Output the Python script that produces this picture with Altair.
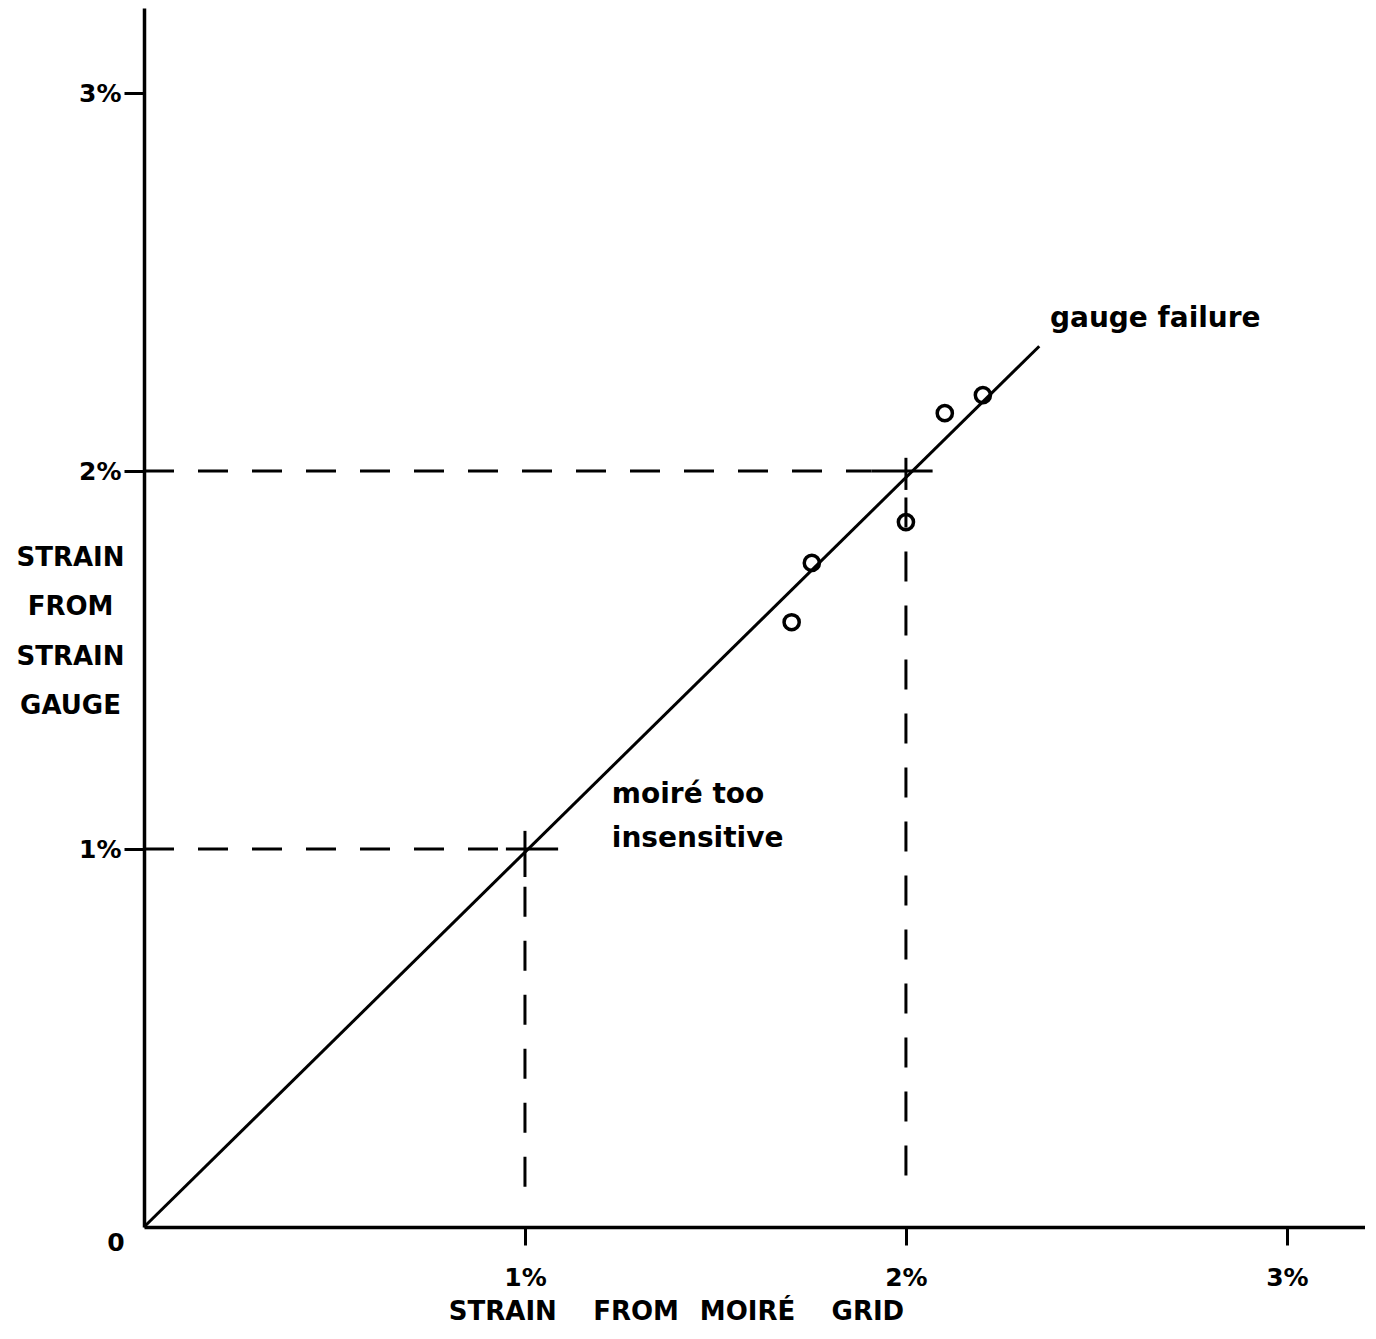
import altair as alt
import pandas as pd

# ---- data ----
line_x = [0.0, 2.35]
line_y = [0.0, 2.33]

pt_x = [1.70, 1.753, 2.0, 2.102, 2.202]
pt_y = [1.60, 1.757, 1.865, 2.153, 2.201]

dash_x = [0.0, 0.0, 1.0, 2.0]
dash_x2 = [0.95, 1.91, 1.0, 2.0]
dash_y = [1.0, 2.0, 0.90, 1.93]
dash_y2 = [1.0, 2.0, 0.10, 0.08]

cross_x = [0.95, 1.0, 1.91, 2.0]
cross_x2 = [1.087, 1.0, 2.07, 2.0]
cross_y = [1.0, 1.048, 2.0, 2.035]
cross_y2 = [1.0, 0.926, 2.0, 1.95]

note_text = ["gauge failure", "moiré too", "insensitive"]
note_x = [2.378, 1.228, 1.228]
note_y = [2.381, 1.122, 1.005]

zero_label = ["0"]
tick_vals = [1, 2, 3]
x_max = 3.205
y_max = 3.225

FONT = "DejaVu Sans"

xs = alt.Scale(domain=[0, x_max], nice=False, zero=False)
ys = alt.Scale(domain=[0, y_max], nice=False, zero=False)

x_axis = alt.Axis(
    values=tick_vals, labelExpr="datum.value + '%'", grid=False,
    title="STRAIN\u2003\u2009\u2009FROM\u2002\u2009\u200aMOIRÉ\u2003\u2009\u2009GRID",
    domainColor="black", domainWidth=3.5, tickColor="black", tickWidth=3, tickSize=18,
    labelFont=FONT, labelFontSize=25, labelFontWeight="bold", labelColor="black",
    labelPadding=20, labelFlush=False,
    titleFont=FONT, titleFontSize=26, titleFontWeight="bold", titleColor="black",
    titleX=532, titleY=92, titleBaseline="alphabetic", titleAlign="center",
)
y_axis = alt.Axis(
    values=tick_vals, labelExpr="datum.value + '%'", grid=False,
    title=["STRAIN", "FROM", "STRAIN", "GAUGE"],
    domainColor="black", domainWidth=3.5, tickColor="black", tickWidth=3, tickSize=20,
    labelFont=FONT, labelFontSize=25, labelFontWeight="bold", labelColor="black",
    labelPadding=3, labelFlush=False,
    titleFont=FONT, titleFontSize=26, titleFontWeight="bold", titleColor="black",
    titleAngle=0, titleX=-74, titleY=557, titleBaseline="alphabetic", titleAlign="center",
    titleLineHeight=49.5,
)

X = alt.X("x:Q", scale=xs, axis=x_axis)
Y = alt.Y("y:Q", scale=ys, axis=y_axis)

line_df = pd.DataFrame({"x": line_x, "y": line_y})
pt_df = pd.DataFrame({"x": pt_x, "y": pt_y})
dash_df = pd.DataFrame({"x": dash_x, "x2": dash_x2, "y": dash_y, "y2": dash_y2})
cross_df = pd.DataFrame({"x": cross_x, "x2": cross_x2, "y": cross_y, "y2": cross_y2})
note_df = pd.DataFrame({"x": note_x, "y": note_y, "t": note_text})
zero_df = pd.DataFrame({"x": [0.0], "y": [0.0], "t": zero_label})

main_line = alt.Chart(line_df).mark_line(color="black", strokeWidth=3).encode(x=X, y=Y)

points = alt.Chart(pt_df).mark_point(
    shape="circle", filled=False, size=230, strokeWidth=3.5, color="black", opacity=1
).encode(x=X, y=Y)

dashes = alt.Chart(dash_df).mark_rule(color="black", strokeWidth=3, strokeDash=[30, 24]).encode(
    x=X, x2="x2:Q", y=Y, y2="y2:Q"
)

crosses = alt.Chart(cross_df).mark_rule(color="black", strokeWidth=3).encode(
    x=X, x2="x2:Q", y=Y, y2="y2:Q"
)

notes = alt.Chart(note_df).mark_text(
    align="left", baseline="alphabetic", font=FONT, fontSize=28, fontWeight="bold", color="black"
).encode(x=X, y=Y, text="t:N")

zero = alt.Chart(zero_df).mark_text(
    align="center", baseline="middle", font=FONT, fontSize=25, fontWeight="bold",
    color="black", dx=-28, dy=16
).encode(x=X, y=Y, text="t:N")

chart = alt.layer(main_line, dashes, crosses, points, notes, zero).properties(
    width=1221, height=1219,
    padding={"left": 7, "top": 0, "right": 0, "bottom": 0},
    background="white",
).configure_view(stroke=None)

chart.save("out.html", embed_options={"renderer": "svg", "actions": False})
